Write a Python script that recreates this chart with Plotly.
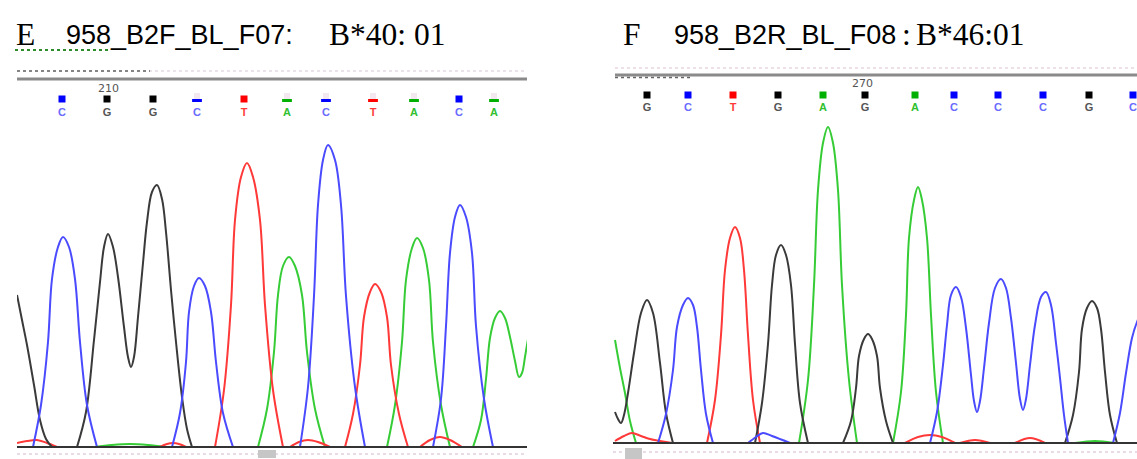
import plotly.graph_objects as go

W, H = 1137, 459

# ---------------- data: panel E (958_B2F_BL_F07) ----------------
# scan positions (x) and signal intensities (y); None separates peak groups
E_G_x = [17, 22, 27, 34, 40, 46, 52, None,
         77, 86, 94, 100, 104, 108, 113, 118, 124, 128, 131, 134, 138, 143, 147, 152, 157, 162, 166, 171, 176, 182, 187, 192]
E_G_y = [152, 127, 102, 62, 27, 8, 0, None,
         0, 35, 107, 165, 200, 213, 200, 170, 120, 90, 80, 90, 130, 184, 225, 255, 262, 248, 215, 157, 105, 50, 18, 0]
E_C_x = [33, 41, 48, 52, 58, 63, 69, 75, 80, 87, 97, None,
         172, 180, 186, 189, 194, 199, 205, 211, 216, 223, 233, None,
         300, 308, 314, 318, 323, 328, 335, 341, 346, 355, 365, None,
         433, 441, 446, 450, 455, 460, 466, 472, 476, 484, 493]
E_C_y = [0, 42, 105, 168, 200, 210, 200, 168, 105, 42, 0, None,
         0, 34, 85, 135, 161, 169, 161, 135, 85, 34, 0, None,
         0, 60, 151, 242, 287, 302, 287, 242, 151, 60, 0, None,
         0, 48, 121, 194, 230, 242, 230, 194, 121, 48, 0]
E_T_x = [17, 27, 37, 47, 57, None, 160, 167, 173, 179, 186, None,
         215, 224, 231, 235, 241, 247, 253, 260, 265, 273, 283, None,
         290, 299, 308, 318, 330, None,
         345, 353, 360, 364, 370, 375, 381, 387, 391, 399, 408, None,
         420, 430, 440, 450, 462]
E_T_y = [4, 6, 7, 4, 0, None, 0, 3, 4, 3, 0, None,
         0, 57, 142, 227, 270, 284, 270, 227, 142, 57, 0, None,
         0, 5, 7, 5, 0, None,
         0, 33, 82, 130, 155, 163, 155, 130, 82, 33, 0, None,
         0, 7, 10, 7, 0]
E_A_x = [95, 112, 130, 148, 165, None,
         258, 267, 274, 278, 283, 289, 295, 302, 307, 315, 325, None,
         387, 395, 402, 406, 412, 417, 423, 429, 433, 441, 450, None,
         473, 481, 486, 490, 495, 500, 505, 510, 515, 519, 522, 525, 528, 532]
E_A_y = [0, 2, 3, 2, 0, None,
         0, 38, 95, 152, 181, 190, 181, 152, 95, 38, 0, None,
         0, 42, 105, 167, 199, 209, 199, 167, 105, 42, 0, None,
         0, 27, 68, 109, 129, 136, 129, 110, 86, 70, 74, 90, 108, 128]
E_bases = list("CGGCTACTACA")
E_base_x = [62, 107, 153, 197, 244, 287, 326, 373, 414, 459, 494]
E_base_full = [1, 1, 1, 0, 1, 0, 0, 0, 0, 1, 0]
E_tick_label, E_tick_x = "210", 108

# ---------------- data: panel F (958_B2R_BL_F08) ----------------
F_G_x = [615, 618, 621, 624, 628, 634, 641, 647, 653, 660, 666, 673, None,
         755, 762, 768, 772, 776, 781, 786, 791, 795, 800, 808, None,
         843, 851, 856, 859, 864, 868, 872, 877, 880, 886, 893, None,
         1065, 1073, 1079, 1082, 1087, 1092, 1097, 1101, 1105, 1110, 1117]
F_G_y = [31, 24, 20, 28, 50, 90, 130, 143, 130, 80, 30, 0, None,
         0, 40, 99, 158, 188, 198, 188, 158, 99, 40, 0, None,
         0, 22, 55, 87, 104, 109, 104, 87, 55, 22, 0, None,
         0, 28, 71, 114, 135, 142, 135, 114, 71, 28, 0]
F_C_x = [658, 666, 673, 677, 683, 688, 693, 697, 701, 706, 713, None,
         748, 756, 763, 772, 790, None,
         930, 937, 943, 947, 951, 956, 961, 966, 971, 974, 977, 980, 984, 989, 995, 1001, 1006, 1011, 1016,
         1020, 1023, 1026, 1030, 1035, 1041, 1046, 1051, 1056, 1060, 1064, 1068, None,
         1113, 1120, 1126, 1132, 1137, 1142, 1147]
F_C_y = [0, 29, 73, 116, 138, 145, 138, 116, 73, 29, 0, None,
         0, 6, 10, 7, 0, None,
         0, 31, 78, 118, 148, 156, 146, 115, 68, 42, 31, 42, 75, 120, 155, 164, 155, 125, 80,
         44, 33, 44, 78, 118, 146, 151, 138, 100, 65, 28, 0, None,
         0, 30, 70, 105, 121, 131, 134]
F_T_x = [615, 624, 632, 641, 650, 672, None,
         707, 715, 721, 725, 730, 735, 740, 744, 748, 753, 760, None,
         905, 918, 930, 942, 955, None,
         960, 975, 990, None,
         1015, 1030, 1045]
F_T_y = [2, 7, 10, 7, 4, 0, None,
         0, 43, 108, 173, 205, 216, 205, 173, 108, 43, 0, None,
         0, 6, 8, 6, 0, None,
         0, 3, 0, None,
         0, 5, 0]
F_A_x = [615, 620, 625, 630, 636, None,
         799, 808, 814, 818, 823, 828, 833, 838, 842, 849, 857, None,
         893, 901, 906, 909, 914, 918, 922, 927, 931, 936, 943, None,
         1075, 1095, 1115]
F_A_y = [103, 75, 50, 22, 0, None,
         0, 63, 158, 253, 300, 316, 300, 253, 158, 63, 0, None,
         0, 51, 128, 205, 243, 256, 243, 205, 128, 51, 0, None,
         0, 2, 0]
F_bases = list("GCTGAGACCCGC")
F_base_x = [647, 688, 733, 778, 823, 865, 915, 954, 998, 1043, 1089, 1133]
F_base_full = [1] * 12
F_tick_label, F_tick_x = "270", 862

# title pieces: (text, is_serif)
E_title = [("E", True), ("958_B2F_BL_F07:", False), ("B*40: 01", True)]
F_title = [("F", True), ("958_B2R_BL_F08", False), (":", True), ("B*46:01", True)]

# ---------------- styles ----------------
LINE_COL = {"G": "#3a3a3a", "C": "#4a4aff", "T": "#ff3838", "A": "#36cc36"}
SQ_COL = {"G": "#000000", "C": "#0000ff", "T": "#ff0000", "A": "#00b000"}
TXT_COL = {"G": "#555555", "C": "#6a6aff", "T": "#ff3a3a", "A": "#2fbf2f"}


def px(x):
    return x / W


def py(y):
    return 1 - y / H


fig = go.Figure()

panels = [
    dict(ax="x", ay="y", chans={"G": (E_G_x, E_G_y), "C": (E_C_x, E_C_y), "T": (E_T_x, E_T_y), "A": (E_A_x, E_A_y)},
         bases=E_bases, bx=E_base_x, full=E_base_full, sq_y=348, tx_y=334),
    dict(ax="x2", ay="y2", chans={"G": (F_G_x, F_G_y), "C": (F_C_x, F_C_y), "T": (F_T_x, F_T_y), "A": (F_A_x, F_A_y)},
         bases=F_bases, bx=F_base_x, full=F_base_full, sq_y=348, tx_y=335),
]

for p in panels:
    for ch in ["A", "T", "G", "C"]:
        xs, ys = p["chans"][ch]
        fig.add_trace(go.Scatter(x=xs, y=ys, mode="lines", xaxis=p["ax"], yaxis=p["ay"],
                                 line=dict(color=LINE_COL[ch], width=2, shape="spline", smoothing=1.0),
                                 connectgaps=False, hoverinfo="skip", showlegend=False))
    # base-call letters
    fig.add_trace(go.Scatter(x=p["bx"], y=[p["tx_y"]] * len(p["bx"]), mode="text",
                             text=["<b>%s</b>" % b for b in p["bases"]],
                             textfont=dict(family="Liberation Sans", size=11, color=[TXT_COL[b] for b in p["bases"]]),
                             xaxis=p["ax"], yaxis=p["ay"], cliponaxis=False, hoverinfo="skip", showlegend=False))
    # full squares
    fx = [x for x, f in zip(p["bx"], p["full"]) if f]
    fc = [SQ_COL[b] for b, f in zip(p["bases"], p["full"]) if f]
    fig.add_trace(go.Scatter(x=fx, y=[p["sq_y"]] * len(fx), mode="markers",
                             marker=dict(symbol="square", size=7, color=fc, line=dict(width=0)),
                             xaxis=p["ax"], yaxis=p["ay"], cliponaxis=False, hoverinfo="skip", showlegend=False))
    # half squares (low quality calls)
    hx = [x for x, f in zip(p["bx"], p["full"]) if not f]
    hc = [SQ_COL[b] for b, f in zip(p["bases"], p["full"]) if not f]
    if hx:
        fig.add_trace(go.Scatter(x=hx, y=[p["sq_y"] + 3] * len(hx), mode="markers",
                                 marker=dict(symbol="square", size=6, color="#f4e8f0", line=dict(width=0)),
                                 xaxis=p["ax"], yaxis=p["ay"], cliponaxis=False, hoverinfo="skip", showlegend=False))
        fig.add_trace(go.Scatter(x=hx, y=[p["sq_y"] - 1.5] * len(hx), mode="markers",
                                 marker=dict(symbol="line-ew", size=7, line=dict(width=3, color=hc)),
                                 xaxis=p["ax"], yaxis=p["ay"], cliponaxis=False, hoverinfo="skip", showlegend=False))

shapes = []
# header bars
shapes.append(dict(type="line", xref="paper", yref="paper", x0=px(17), x1=px(527), y0=py(71), y1=py(71),
                   line=dict(color="#e4dce4", width=1.5, dash="dot")))
shapes.append(dict(type="line", xref="paper", yref="paper", x0=px(17), x1=px(150), y0=py(71), y1=py(71),
                   line=dict(color="#666666", width=1.5, dash="dot")))
shapes.append(dict(type="line", xref="paper", yref="paper", x0=px(17), x1=px(527), y0=py(79), y1=py(79),
                   line=dict(color="#8a8a8a", width=3)))
shapes.append(dict(type="line", xref="paper", yref="paper", x0=px(615), x1=px(1137), y0=py(68), y1=py(68),
                   line=dict(color="#e8d8e0", width=1.5, dash="dot")))
shapes.append(dict(type="line", xref="paper", yref="paper", x0=px(615), x1=px(1137), y0=py(75), y1=py(75),
                   line=dict(color="#8a8a8a", width=3)))
shapes.append(dict(type="line", xref="paper", yref="paper", x0=px(615), x1=px(690), y0=py(77.5), y1=py(77.5),
                   line=dict(color="#666666", width=1.5, dash="dot")))
# baselines
shapes.append(dict(type="line", xref="paper", yref="paper", x0=px(17), x1=px(527), y0=py(447), y1=py(447),
                   line=dict(color="#333333", width=2)))
shapes.append(dict(type="line", xref="paper", yref="paper", x0=px(613), x1=px(1137), y0=py(443), y1=py(443),
                   line=dict(color="#333333", width=2)))
# bottom scroll rows
shapes.append(dict(type="line", xref="paper", yref="paper", x0=px(17), x1=px(527), y0=py(454), y1=py(454),
                   line=dict(color="#eadce6", width=2, dash="dot")))
shapes.append(dict(type="line", xref="paper", yref="paper", x0=px(613), x1=px(1137), y0=py(452), y1=py(452),
                   line=dict(color="#eadce6", width=2, dash="dot")))
shapes.append(dict(type="rect", xref="paper", yref="paper", x0=px(258), x1=px(276), y0=py(458), y1=py(450),
                   fillcolor="#c6c6c6", line=dict(width=0)))
shapes.append(dict(type="rect", xref="paper", yref="paper", x0=px(625), x1=px(642), y0=py(459), y1=py(448),
                   fillcolor="#c6c6c6", line=dict(width=0)))
# spell-check squiggle under the title
shapes.append(dict(type="line", xref="paper", yref="paper", x0=px(15), x1=px(110), y0=py(50), y1=py(50),
                   line=dict(color="#2e8b2e", width=2, dash="dot")))

annotations = []
serif = dict(family="Liberation Serif", size=31.5, color="#000000")
sans = dict(family="Liberation Sans", size=27, color="#000000")
for (txt, is_serif), x in zip(E_title, [14, 64, 327]):
    annotations.append(dict(text=txt, x=px(x), y=py(34 if is_serif else 35.5), xref="paper", yref="paper",
                            xanchor="left", yanchor="middle", showarrow=False, font=serif if is_serif else sans))
for (txt, is_serif), x in zip(F_title, [621, 672, 900, 914]):
    annotations.append(dict(text=txt, x=px(x), y=py(34 if is_serif else 35.5), xref="paper", yref="paper",
                            xanchor="left", yanchor="middle", showarrow=False, font=serif if is_serif else sans))
annotations.append(dict(text=E_tick_label, x=E_tick_x, y=py(88), xref="x", yref="paper", xanchor="center",
                        yanchor="middle", showarrow=False, font=dict(family="DejaVu Sans", size=11, color="#555555")))
annotations.append(dict(text=F_tick_label, x=F_tick_x, y=py(83), xref="x2", yref="paper", xanchor="center",
                        yanchor="middle", showarrow=False, font=dict(family="DejaVu Sans", size=11, color="#555555")))

fig.update_layout(
    width=W, height=H, autosize=False,
    margin=dict(l=0, r=0, t=0, b=0, pad=0),
    paper_bgcolor="white", plot_bgcolor="white",
    shapes=shapes, annotations=annotations,
    xaxis=dict(domain=[px(17), px(527)], range=[17, 527], visible=False, fixedrange=True),
    yaxis=dict(domain=[(H - 447) / H, (H - 60) / H], range=[0, 387], visible=False, fixedrange=True),
    xaxis2=dict(domain=[px(613), 1.0], range=[613, 1137], visible=False, fixedrange=True),
    yaxis2=dict(domain=[(H - 443) / H, (H - 60) / H], range=[0, 383], visible=False, fixedrange=True),
)

fig.write_html("out.html", config={"displayModeBar": False, "staticPlot": True},
               post_script="document.body.style.margin='0px';document.body.style.overflow='hidden';")
